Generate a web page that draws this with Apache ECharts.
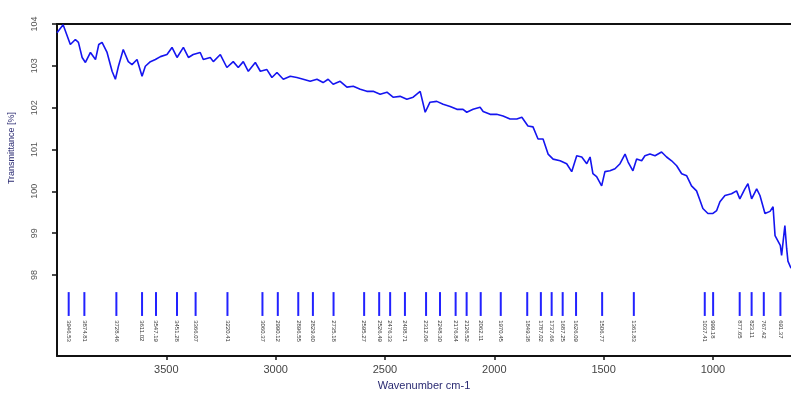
<!DOCTYPE html>
<html>
<head>
<meta charset="utf-8">
<script src="https://cdn.jsdelivr.net/npm/echarts@6/dist/echarts.min.js"></script>
<style>
html,body{margin:0;padding:0;background:#fff;}
#chart{width:791px;height:396px;}
</style>
</head>
<body>
<div id="chart"></div>
<script>
// Spectrum (wavenumber, cm-1) and transmittance (%)
var wavenumbers = [4000,3972,3939,3916,3902,3885,3870,3847,3824,3809,3794,3771,3748,3733,3719,3697,3674,3657,3634,3611,3596,3573,3550,3527,3497,3474,3451,3422,3399,3377,3345,3331,3299,3285,3253,3223,3194,3171,3148,3125,3093,3070,3040,3017,2994,2965,2933,2903,2874,2842,2811,2783,2760,2737,2705,2674,2645,2613,2583,2554,2522,2491,2463,2431,2400,2371,2339,2316,2294,2263,2234,2202,2171,2143,2126,2097,2065,2051,2019,1989,1960,1928,1897,1874,1846,1823,1800,1777,1754,1731,1699,1669,1646,1623,1600,1577,1562,1549,1532,1509,1494,1471,1448,1425,1402,1388,1366,1349,1326,1311,1288,1265,1235,1212,1189,1166,1143,1120,1098,1075,1059,1046,1023,1000,983,968,945,915,892,877,854,840,823,800,785,762,739,725,716,692,686,671,663,657,643];
var transmittance = [103.79,103.98,103.51,103.63,103.56,103.20,103.08,103.32,103.15,103.51,103.56,103.32,102.87,102.68,102.99,103.39,103.10,103.03,103.15,102.75,102.99,103.10,103.15,103.22,103.27,103.44,103.20,103.44,103.20,103.27,103.32,103.15,103.20,103.10,103.27,102.96,103.10,102.96,103.10,102.87,103.08,102.87,102.91,102.72,102.84,102.68,102.75,102.72,102.68,102.63,102.68,102.60,102.68,102.56,102.63,102.49,102.51,102.44,102.39,102.39,102.32,102.37,102.25,102.27,102.20,102.25,102.39,101.89,102.13,102.15,102.08,102.03,101.96,101.96,101.89,101.96,102.01,101.91,101.84,101.84,101.80,101.73,101.73,101.77,101.56,101.54,101.25,101.25,100.89,100.77,100.73,100.66,100.47,100.85,100.82,100.66,100.82,100.42,100.35,100.13,100.47,100.49,100.54,100.66,100.89,100.70,100.49,100.77,100.73,100.85,100.89,100.85,100.94,100.82,100.73,100.61,100.42,100.37,100.13,100.01,99.78,99.59,99.47,99.47,99.54,99.75,99.90,99.94,100.01,99.82,100.06,100.18,99.82,100.06,99.90,99.47,99.52,99.63,98.94,98.71,98.47,99.18,98.64,98.33,98.16];
// Peak picks
var peakWavenumbers = [3946.53,3874.81,3728.46,3611.02,3547.19,3451.28,3366.07,3220.41,3060.37,2990.12,2896.55,2829.60,2735.18,2595.27,2526.49,2476.33,2408.71,2312.06,2248.30,2176.84,2126.52,2062.11,1970.45,1849.38,1787.02,1737.66,1687.25,1626.09,1506.77,1361.83,1037.41,999.18,877.65,823.11,767.42,691.37];
// Axis ticks
var xTicks = [3500,3000,2500,2000,1500,1000];
var yTicks = [98,99,100,101,102,103,104];

var chart = echarts.init(document.getElementById('chart'), null, {renderer:'canvas'});
var spectrum = wavenumbers.map(function(w,i){return [w, transmittance[i]];});
var peaks = peakWavenumbers.map(function(w){return [w];});

var option = {
  animation:false,
  backgroundColor:'#fff',
  textStyle:{fontFamily:'Liberation Sans, Arial, sans-serif'},
  grid:{left:57,right:0,top:24,bottom:38,show:false},
  xAxis:[{
    type:'value', inverse:true, min:643, max:4000, position:'bottom',
    name:'Wavenumber cm-1', nameLocation:'middle', nameGap:22,
    nameTextStyle:{color:'#2a2a72',fontSize:11},
    axisLine:{show:true,onZero:false,lineStyle:{color:'#111',width:2}},
    axisTick:{show:true,length:4,customValues:xTicks,lineStyle:{color:'#111',width:1.5}},
    axisLabel:{customValues:xTicks,color:'#444',fontSize:11,margin:8,formatter:function(v){return String(v);}},
    splitLine:{show:false}
  },{
    type:'value', inverse:true, min:643, max:4000, position:'top',
    axisLine:{show:true,onZero:false,lineStyle:{color:'#111',width:2}},
    axisTick:{show:false}, axisLabel:{show:false}, splitLine:{show:false}
  }],
  yAxis:{
    type:'value', min:96.06, max:104,
    axisLine:{show:true,onZero:false,lineStyle:{color:'#111',width:2}},
    axisTick:{show:true,length:5,customValues:yTicks,lineStyle:{color:'#111',width:1.5}},
    axisLabel:{customValues:yTicks,color:'#555',fontSize:9,rotate:90,margin:18,formatter:function(v){return String(v);}},
    splitLine:{show:false}
  },
  graphic:[{
    type:'text', x:12, y:148, rotation:Math.PI/2,
    style:{text:'Transmittance [%]', fill:'#2a2a72', fontSize:9, align:'center', verticalAlign:'middle', textAlign:'center', textVerticalAlign:'middle', fontFamily:'Liberation Sans, Arial, sans-serif'}
  }],
  series:[
    {
      type:'line', data:spectrum, showSymbol:false, symbol:'none', xAxisIndex:0,
      lineStyle:{color:'#1515f0',width:1.6}, silent:true, clip:true
    },
    {
      type:'custom', data:peaks, silent:true, clip:false, xAxisIndex:0,
      renderItem:function(params, api){
        var w = api.value(0);
        var top = api.coord([w, 97.59]);
        var bot = api.coord([w, 97.02]);
        var lab = api.coord([w, 96.92]);
        return {
          type:'group',
          children:[
            {type:'line', shape:{x1:top[0],y1:top[1],x2:bot[0],y2:bot[1]}, style:{stroke:'#2222ff',lineWidth:2}},
            {type:'text', x:lab[0], y:lab[1], rotation:-Math.PI/2,
             style:{text:w.toFixed(2), fill:'#333', fontSize:6, align:'left', verticalAlign:'middle', textAlign:'left', textVerticalAlign:'middle', fontFamily:'Liberation Sans, Arial, sans-serif'}}
          ]
        };
      }
    }
  ]
};
chart.setOption(option);
</script>
</body>
</html>
